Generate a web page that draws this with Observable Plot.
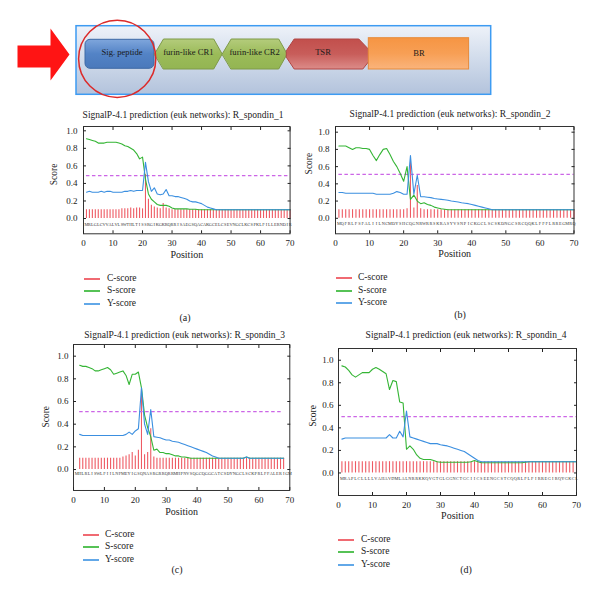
<!DOCTYPE html>
<html><head><meta charset="utf-8">
<script src="https://cdn.jsdelivr.net/npm/d3@7"></script>
<script src="https://cdn.jsdelivr.net/npm/@observablehq/plot@0.6"></script>
<style>
body{margin:0;background:#fff;}
#root{position:relative;width:600px;height:596px;overflow:hidden;background:#fff;font-family:"Liberation Serif","Times New Roman",Times,serif;color:#222;}
#root svg{position:absolute;max-width:none;}
</style></head><body><div id="root"></div>
<script>
// ---------------- data ----------------
const domainNames = ["Sig. peptide", "furin-like CR1", "furin-like CR2", "TSR", "BR"];
const domainLen = [69, 67.7, 65, 81.6, 100.3]; // schematic lengths

const legendNames = ["C-score", "S-score", "Y-score"];
const xTicks = [0, 10, 20, 30, 40, 50, 60, 70];
const yTicks = [0, 0.2, 0.4, 0.6, 0.8, 1.0];

const titleA = "SignalP-4.1 prediction (euk networks): R_spondin_1";
const titleB = "SignalP-4.1 prediction (euk networks): R_spondin_2";
const titleC = "SignalP-4.1 prediction (euk networks): R_spondin_3";
const titleD = "SignalP-4.1 prediction (euk networks): R_spondin_4";

const seqA = "MRLGLCVVALVLSWTHLTISSRGIKGKRQRRISAEGSQACAKGCELCSEVNGCLKCSPKLFILLERNDIR";
const seqB = "MQFRLFSFALIILNCMDYSHCQGNRWRRSKRASYVSNPICKGCLSCSKDNGCSRCQQKLFFFLRREGMRQ";
const seqC = "MHLRLISWLFIILNFMEYIGSQNASRGRRQRRMHPNVSQGCQGGCATCSDYNGCLSCKPRLFFALERIGM";
const seqD = "MRAPLCLLLLVAHAVDMLALNRRKKQVGTGLGGNCTGCIICSEENGCSTCQQRLFLFIRREGIRQYGKCL";

const posA = d3.range(1, 71);
const posB = d3.range(1, 71);
const posC = d3.range(2, 69);
const posD = d3.range(1, 71);

const thrA = 0.49, thrB = 0.51, thrC = 0.51, thrD = 0.50;

const cA = [0.10,0.10,0.10,0.10,0.10,0.10,0.10,0.10,0.10,0.10,
            0.10,0.10,0.11,0.11,0.11,0.12,0.11,0.12,0.12,0.11,
            0.50,0.22,0.15,0.13,0.12,0.11,0.17,0.12,0.11,0.10,
            0.10,0.10,0.10,0.10,0.10,0.10,0.10,0.10,0.10,0.10,
            0.10,0.10,0.10,0.10,0.10,0.10,0.10,0.10,0.10,0.10,
            0.10,0.10,0.10,0.10,0.10,0.10,0.10,0.10,0.10,0.10,
            0.10,0.10,0.10,0.10,0.10,0.10,0.10,0.10,0.10,0.10];
const sA = [0.91,0.90,0.89,0.88,0.86,0.86,0.86,0.87,0.87,0.87,
            0.87,0.86,0.85,0.83,0.82,0.80,0.78,0.74,0.68,0.70,
            0.45,0.28,0.22,0.19,0.16,0.15,0.15,0.15,0.14,0.12,
            0.11,0.11,0.11,0.11,0.11,0.105,0.105,0.105,0.10,0.10,
            0.10,0.10,0.10,0.10,0.10,0.10,0.10,0.10,0.10,0.10,
            0.10,0.10,0.10,0.10,0.10,0.10,0.10,0.10,0.10,0.10,
            0.10,0.10,0.10,0.10,0.10,0.10,0.10,0.10,0.10,0.10];
const yA = [0.30,0.31,0.30,0.30,0.30,0.31,0.30,0.31,0.31,0.30,
            0.30,0.30,0.30,0.31,0.31,0.32,0.31,0.32,0.32,0.32,
            0.64,0.42,0.31,0.35,0.28,0.27,0.28,0.33,0.26,0.26,
            0.25,0.25,0.24,0.23,0.22,0.20,0.19,0.19,0.18,0.17,
            0.15,0.13,0.12,0.11,0.10,0.10,0.10,0.10,0.10,0.10,
            0.10,0.10,0.10,0.10,0.10,0.10,0.10,0.10,0.10,0.10,
            0.10,0.10,0.10,0.10,0.10,0.10,0.10,0.10,0.10,0.10];

const cB = [0.10,0.10,0.10,0.10,0.10,0.10,0.10,0.10,0.10,0.10,
            0.10,0.10,0.10,0.10,0.10,0.10,0.10,0.10,0.10,0.10,
            0.11,0.65,0.12,0.38,0.11,0.10,0.10,0.10,0.10,0.10,
            0.10,0.10,0.10,0.10,0.10,0.10,0.10,0.10,0.10,0.10,
            0.10,0.10,0.10,0.10,0.10,0.10,0.10,0.10,0.10,0.10,
            0.10,0.10,0.10,0.10,0.10,0.10,0.10,0.10,0.10,0.10,
            0.10,0.10,0.10,0.10,0.10,0.10,0.10,0.10,0.10,0.10];
const sB = [0.84,0.84,0.84,0.82,0.80,0.82,0.82,0.81,0.81,0.80,
            0.73,0.67,0.74,0.80,0.81,0.74,0.66,0.60,0.52,0.43,
            0.60,0.22,0.27,0.20,0.17,0.18,0.16,0.15,0.13,0.12,
            0.11,0.105,0.10,0.10,0.10,0.10,0.10,0.10,0.10,0.10,
            0.10,0.10,0.10,0.10,0.10,0.10,0.10,0.10,0.10,0.10,
            0.10,0.10,0.10,0.10,0.10,0.10,0.10,0.10,0.10,0.10,
            0.10,0.10,0.10,0.10,0.10,0.10,0.10,0.10,0.10,0.10];
const yB = [0.30,0.30,0.29,0.29,0.29,0.29,0.29,0.29,0.29,0.29,
            0.29,0.28,0.28,0.28,0.28,0.28,0.29,0.31,0.30,0.28,
            0.28,0.73,0.28,0.50,0.25,0.25,0.245,0.24,0.23,0.225,
            0.22,0.215,0.21,0.20,0.195,0.19,0.18,0.175,0.17,0.16,
            0.15,0.14,0.13,0.12,0.11,0.10,0.10,0.10,0.10,0.10,
            0.10,0.10,0.10,0.10,0.10,0.10,0.10,0.10,0.10,0.10,
            0.10,0.10,0.10,0.10,0.10,0.10,0.10,0.10,0.10,0.10];

const cC = [0.10,0.10,0.10,0.10,0.10,0.10,0.10,0.10,0.10,0.10,
            0.10,0.10,0.10,0.10,0.11,0.12,0.13,0.15,0.12,0.17,
            0.71,0.13,0.15,0.36,0.11,0.10,0.10,0.10,0.10,0.10,
            0.10,0.10,0.10,0.10,0.10,0.10,0.10,0.10,0.10,0.10,
            0.10,0.10,0.10,0.10,0.10,0.10,0.10,0.10,0.10,0.10,
            0.10,0.10,0.10,0.10,0.10,0.10,0.10,0.10,0.10,0.10,
            0.10,0.10,0.10,0.10,0.10,0.10,0.10];
const sC = [0.92,0.91,0.91,0.90,0.89,0.87,0.87,0.88,0.89,0.90,
            0.88,0.84,0.85,0.86,0.87,0.83,0.75,0.84,0.84,0.86,
            0.72,0.48,0.37,0.29,0.17,0.18,0.15,0.15,0.14,0.14,
            0.13,0.12,0.12,0.11,0.11,0.105,0.10,0.10,0.10,0.10,
            0.10,0.10,0.10,0.10,0.10,0.10,0.10,0.10,0.10,0.10,
            0.10,0.10,0.10,0.10,0.11,0.10,0.10,0.10,0.10,0.10,
            0.10,0.10,0.10,0.10,0.10,0.10,0.10];
const yC = [0.31,0.30,0.30,0.30,0.30,0.30,0.30,0.30,0.30,0.30,
            0.30,0.30,0.30,0.30,0.30,0.31,0.33,0.31,0.34,0.36,
            0.72,0.40,0.31,0.53,0.29,0.285,0.28,0.27,0.26,0.26,
            0.25,0.245,0.24,0.23,0.22,0.21,0.20,0.19,0.18,0.17,
            0.16,0.15,0.135,0.12,0.11,0.10,0.10,0.10,0.10,0.10,
            0.10,0.10,0.10,0.10,0.11,0.10,0.10,0.10,0.10,0.10,
            0.10,0.10,0.10,0.10,0.10,0.10,0.10];

const cD = [0.10,0.10,0.10,0.10,0.10,0.10,0.10,0.10,0.10,0.10,
            0.10,0.10,0.10,0.10,0.10,0.10,0.10,0.10,0.10,0.10,
            0.10,0.10,0.10,0.10,0.10,0.10,0.10,0.10,0.10,0.10,
            0.10,0.10,0.10,0.10,0.10,0.10,0.10,0.10,0.10,0.10,
            0.10,0.10,0.10,0.10,0.10,0.10,0.10,0.10,0.10,0.10,
            0.10,0.10,0.10,0.10,0.10,0.10,0.10,0.10,0.10,0.10,
            0.10,0.10,0.10,0.10,0.10,0.10,0.10,0.10,0.10,0.10];
const sD = [0.95,0.94,0.91,0.87,0.85,0.87,0.89,0.89,0.89,0.92,
            0.935,0.92,0.90,0.88,0.74,0.82,0.81,0.63,0.62,0.21,
            0.24,0.21,0.16,0.13,0.12,0.12,0.12,0.11,0.10,0.095,
            0.095,0.095,0.095,0.095,0.095,0.095,0.095,0.095,0.10,0.11,
            0.10,0.09,0.09,0.09,0.09,0.09,0.09,0.09,0.09,0.09,
            0.09,0.09,0.09,0.09,0.095,0.10,0.10,0.10,0.10,0.10,
            0.10,0.10,0.10,0.10,0.10,0.10,0.10,0.10,0.10,0.10];
const yD = [0.30,0.31,0.31,0.31,0.31,0.31,0.31,0.31,0.31,0.31,
            0.31,0.31,0.31,0.31,0.34,0.31,0.31,0.37,0.32,0.55,
            0.32,0.31,0.30,0.29,0.28,0.27,0.26,0.26,0.26,0.25,
            0.245,0.24,0.23,0.22,0.21,0.20,0.19,0.17,0.15,0.13,
            0.11,0.10,0.10,0.10,0.10,0.10,0.10,0.10,0.10,0.10,
            0.10,0.10,0.10,0.10,0.10,0.10,0.10,0.10,0.10,0.10,
            0.10,0.10,0.10,0.10,0.10,0.10,0.10,0.10,0.10,0.10];

// ---------------- styling ----------------
const SERIF = '"Liberation Serif","Times New Roman",Times,serif';
const RED = "#ee5a63", GREEN = "#35b535", BLUE = "#3b8fe0", MAG = "#cc66e6";
const legendColors = ["#f06a72", "#56c256", "#62a8e8"];
const root = document.getElementById("root");

function label(text, cx, cy, size) {
  const d = document.createElement("div");
  d.textContent = text;
  d.style.cssText = `position:absolute;left:${cx}px;top:${cy}px;transform:translate(-50%,-50%);font-size:${size}px;white-space:nowrap;line-height:1;`;
  root.appendChild(d);
}
function legend(lineX, textX, ys) {
  legendNames.forEach((name, i) => {
    const ln = document.createElement("div");
    ln.style.cssText = `position:absolute;left:${Math.round(lineX)}px;top:${Math.round(ys[i]) - 1}px;width:16px;height:2px;background:${legendColors[i]};`;
    root.appendChild(ln);
    const t = document.createElement("div");
    t.textContent = name;
    t.style.cssText = `position:absolute;left:${textX}px;top:${ys[i]}px;transform:translateY(-50%);font-size:9.5px;line-height:1;white-space:nowrap;`;
    root.appendChild(t);
  });
}

// ---------------- banner ----------------
(function banner() {
  const x0 = 85, top = 38.5, bot = 68.5, mid = 53.5;
  let cur = x0;
  const shapes = domainNames.map((name, i) => { const s = cur, e = cur + domainLen[i]; cur = e; return {name, s, e, i}; });
  const hex = (d) => [[d.s, mid], [d.s + 9, top], [d.e - 8.5, top], [d.e, mid], [d.e - 8.5, bot], [d.s + 9, bot]].map(([x, y]) => ({x, y}));
  const oct = (d) => [[d.s - 0.7, 50], [d.s + 7, top], [d.e - 10, top], [d.e, 49], [d.e, 61], [d.e - 6, bot], [d.s + 7, bot], [d.s - 0.7, 57]].map(([x, y]) => ({x, y}));
  const arrow = [[17, 45], [50, 45], [50, 28], [69, 54], [50, 80], [50, 67], [17, 67]].map(([x, y]) => ({x, y}));
  const svg = Plot.plot({
    width: 600, height: 105, margin: 0,
    x: {domain: [0, 600], range: [0, 600]},
    y: {domain: [0, 105], range: [0, 105]},
    axis: null,
    style: {fontFamily: SERIF, background: "transparent", overflow: "visible"},
    marks: [
      Plot.rect([0], {x1: 76, x2: 490.7, y1: 25.7, y2: 94.3, fill: "url(#gBg)", stroke: "#3d9bf2", strokeWidth: 1.5}),
      Plot.line(arrow, {x: "x", y: "y", curve: "linear-closed", fill: "#ff1414", stroke: "none"}),
      Plot.rect([shapes[0]], {x1: "s", x2: "e", y1: 39.3, y2: 68.3, rx: 5, fill: "url(#gSig)", stroke: "#3e6aa5", strokeWidth: 1}),
      Plot.line(hex(shapes[1]), {x: "x", y: "y", curve: "linear-closed", fill: "url(#gGreen)", stroke: "#7e9a48", strokeWidth: 1}),
      Plot.line(hex(shapes[2]), {x: "x", y: "y", curve: "linear-closed", fill: "url(#gGreen)", stroke: "#7e9a48", strokeWidth: 1}),
      Plot.line(oct(shapes[3]), {x: "x", y: "y", curve: "linear-closed", fill: "url(#gRed)", stroke: "#b04744", strokeWidth: 1}),
      Plot.rect([shapes[4]], {x1: "s", x2: "e", y1: 37.7, y2: 69, fill: "url(#gOrange)", stroke: "#e68a3a", strokeWidth: 1}),
      Plot.text(shapes, {x: (d) => (d.s + d.e) / 2 + (d.i === 3 ? -5 : d.i === 0 ? 2 : 0), y: (d) => d.i === 4 ? 53 : 51.5, text: "name", fontSize: 8.6, fill: "#1a1a1a"}),
      Plot.dot([0], {x: 116.7, y: 58.3, r: 38.6, stroke: "#dc2a2a", strokeWidth: 1.5, fill: "none"})
    ]
  });
  const defs = d3.select(svg).insert("defs", ":first-child");
  const grad = (id, stops) => {
    const g = defs.append("linearGradient").attr("id", id).attr("x1", 0).attr("y1", 0).attr("x2", 0).attr("y2", 1);
    stops.forEach(([o, c]) => g.append("stop").attr("offset", o).attr("stop-color", c));
  };
  grad("gBg", [[0, "#eef2f9"], [0.45, "#d3ddec"], [1, "#b3c3dc"]]);
  grad("gSig", [[0, "#7fa6dc"], [0.5, "#5383c6"], [1, "#4a79bb"]]);
  grad("gGreen", [[0, "#b4cc7c"], [0.5, "#9bbb59"], [1, "#93b552"]]);
  grad("gRed", [[0, "#c24f4c"], [0.5, "#c85d5a"], [1, "#dc8c89"]]);
  grad("gOrange", [[0, "#f69543"], [0.5, "#f79f55"], [1, "#fab47c"]]);
  svg.style.left = "0px"; svg.style.top = "0px";
  root.appendChild(svg);
})();

// ---------------- panels ----------------
function panel(cfg) {
  const [fl, ft, fr, fb] = cfg.frame;
  const mL = 45, mT = 6, mB = 36, mR = 8;
  const W = fr - fl + mL + mR, H = fb - ft + mT + mB;
  const data = cfg.pos.map((p, i) => ({p, c: cfg.c[i], s: cfg.s[i], y: cfg.y[i]}));
  const letters = cfg.seq.split("").map((ch, i) => ({p: i + 1, ch}));
  const svg = Plot.plot({
    width: W, height: H, marginLeft: mL, marginTop: mT, marginRight: mR, marginBottom: mB,
    style: {fontFamily: SERIF, fontSize: "9px", color: "#222", background: "transparent", overflow: "visible"},
    x: {domain: [0, 70], label: null},
    y: {domain: cfg.yDomain, label: null},
    marks: [
      Plot.ruleX(data, {x: "p", y1: 0, y2: "c", stroke: RED, strokeWidth: 1.1}),
      Plot.ruleY([cfg.thr], {x1: cfg.pos[0], x2: cfg.pos[cfg.pos.length - 1], stroke: MAG, strokeWidth: 1.2, strokeDasharray: "3.5,2.5"}),
      Plot.line(data, {x: "p", y: "s", stroke: GREEN, strokeWidth: 1.1}),
      Plot.line(data, {x: "p", y: "y", stroke: BLUE, strokeWidth: 1.1}),
      Plot.text(letters, {x: "p", y: cfg.seqY, text: "ch", fontSize: 4.3, fill: "#333"}),
      Plot.frame({stroke: "#333", strokeWidth: 1}),
      Plot.axisX(xTicks, {anchor: "bottom", tickSize: 0, tickPadding: cfg.xPad, label: null, tickFormat: (d) => d}),
      Plot.axisX(xTicks, {anchor: "bottom", tickSize: -3, text: null, label: null}),
      Plot.axisX(xTicks, {anchor: "top", tickSize: -3, text: null, label: null}),
      Plot.axisY(yTicks, {anchor: "left", tickSize: 0, tickPadding: cfg.yPad, label: null, tickFormat: d3.format(".1f")}),
      Plot.axisY(yTicks, {anchor: "left", tickSize: -3, text: null, label: null}),
      Plot.axisY(yTicks, {anchor: "right", tickSize: -3, text: null, label: null}),
      Plot.text(["Score"], {y: cfg.scoreY, frameAnchor: "left", dx: cfg.scoreDx, rotate: -90, fontSize: 9.5, fill: "#222"}),
      Plot.text(["Position"], {frameAnchor: "bottom", dy: cfg.posDy, fontSize: 10, fill: "#222"})
    ]
  });
  svg.style.left = (fl - mL) + "px";
  svg.style.top = (ft - mT) + "px";
  root.appendChild(svg);
}

panel({frame: [82.7, 125.7, 289.3, 233], yDomain: [-0.174, 1.049], pos: posA, c: cA, s: sA, y: yA, seq: seqA, thr: thrA,
       seqY: -0.065, xPad: 5.5, yPad: 6, scoreY: 0.38, scoreDx: -30, posDy: 24});
panel({frame: [335, 126, 573.5, 233.3], yDomain: [-0.18, 1.066], pos: posB, c: cB, s: sB, y: yB, seq: seqB, thr: thrB,
       seqY: -0.065, xPad: 5.5, yPad: 6, scoreY: 0.51, scoreDx: -27, posDy: 23});
panel({frame: [72.7, 344, 289, 490], yDomain: [-0.185, 1.103], pos: posC, c: cC, s: sC, y: yC, seq: seqC, thr: thrC,
       seqY: -0.04, xPad: 6.5, yPad: 5, scoreY: 0.37, scoreDx: -28, posDy: 25});
panel({frame: [338, 348, 576, 495], yDomain: [-0.2, 1.104], pos: posD, c: cD, s: sD, y: yD, seq: seqD, thr: thrD,
       seqY: -0.053, xPad: 6, yPad: 5, scoreY: 0.41, scoreDx: -26, posDy: 23});

// titles, legends, captions
label(titleA, 183, 115.5, 9.5);
label(titleB, 450, 115, 9.5);
label(titleC, 184.7, 336, 9.5);
label(titleD, 466, 336, 9.5);

legend(84, 107, [278.5, 291, 303.5]);
legend(336, 358, [278, 290.5, 303]);
legend(83, 105, [535, 547, 560]);
legend(338, 361, [540, 552, 564.5]);

label("(a)", 185, 317.5, 10);
label("(b)", 460, 314.5, 10);
label("(c)", 177, 569.5, 10);
label("(d)", 466, 569.5, 10);
</script>
</body></html>
